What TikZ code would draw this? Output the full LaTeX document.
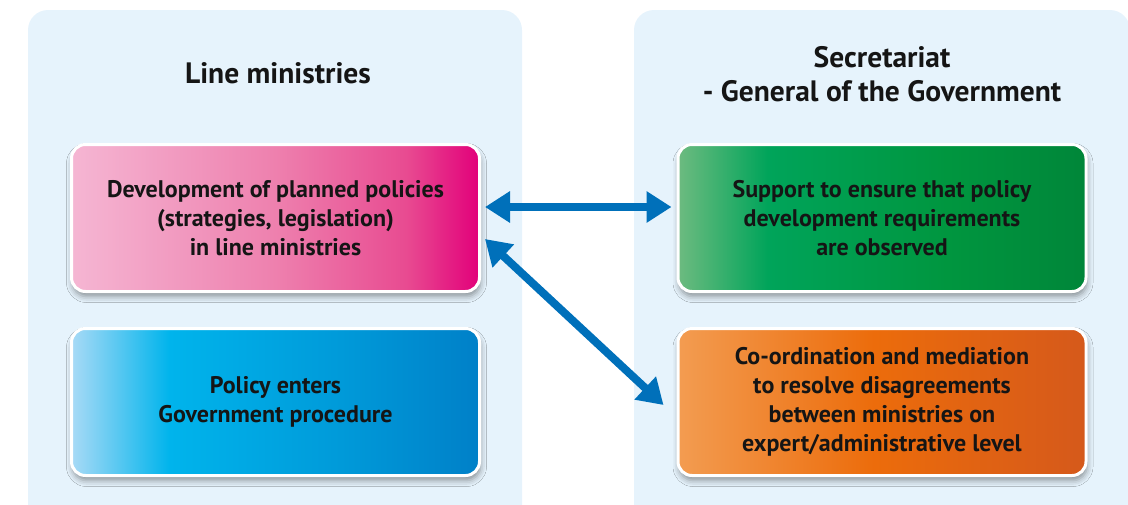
\documentclass[tikz,border=0pt]{standalone}
\usepackage{fontspec}
\setmainfont{PT Sans}
\usetikzlibrary{arrows.meta,shadows.blur}

\definecolor{panelfill}{HTML}{E6F3FC}
\definecolor{arrowblue}{HTML}{0070BA}
\definecolor{inktext}{HTML}{151515}

\definecolor{pink0}{HTML}{F5B6D3}
\definecolor{pink1}{HTML}{EE80AE}
\definecolor{pink2}{HTML}{E84B91}
\definecolor{pink3}{HTML}{E2007A}
\definecolor{blue0}{HTML}{A8DAF6}
\definecolor{blue1}{HTML}{00B4EC}
\definecolor{blue2}{HTML}{009AD9}
\definecolor{blue3}{HTML}{0080C8}
\definecolor{green0}{HTML}{6DBB80}
\definecolor{green1}{HTML}{00A45A}
\definecolor{green2}{HTML}{00963F}
\definecolor{green3}{HTML}{008639}
\definecolor{orange0}{HTML}{F39C51}
\definecolor{orange1}{HTML}{EC6C0B}
\definecolor{orange3}{HTML}{D5591B}

% horizontal colour ramps; the card spans 25bp..75bp of each ramp
\pgfdeclarehorizontalshading{pinkramp}{100bp}{%
  color(0bp)=(pink0); color(25bp)=(pink0); color(50bp)=(pink1);
  color(66bp)=(pink2); color(75bp)=(pink3); color(100bp)=(pink3)}
\pgfdeclarehorizontalshading{blueramp}{100bp}{%
  color(0bp)=(blue0); color(25bp)=(blue0); color(37bp)=(blue1);
  color(58bp)=(blue2); color(75bp)=(blue3); color(100bp)=(blue3)}
\pgfdeclarehorizontalshading{greenramp}{100bp}{%
  color(0bp)=(green0); color(25bp)=(green0); color(36bp)=(green1);
  color(58bp)=(green2); color(75bp)=(green3); color(100bp)=(green3)}
\pgfdeclarehorizontalshading{orangeramp}{100bp}{%
  color(0bp)=(orange0); color(25bp)=(orange0); color(49bp)=(orange1);
  color(75bp)=(orange3); color(100bp)=(orange3)}

\tikzset{
  panel/.style={fill=panelfill, rounded corners=20pt},
  paneltitle/.style={align=center, text=inktext,
    font=\fontsize{29.5}{34}\selectfont\bfseries},
  card/.style={rectangle, rounded corners=14pt, draw=white, line width=3pt,
    minimum width=408pt, minimum height=147pt, align=center, text=inktext,
    font=\fontsize{24}{29}\selectfont\bfseries,
    blur shadow={shadow xshift=1pt, shadow yshift=-5pt,
      shadow blur radius=6pt, shadow opacity=40}},
  biarrow/.style={draw=arrowblue, line width=8pt,
    {Triangle[length=25pt,width=30pt]}-{Triangle[length=25pt,width=30pt]}}
}

\begin{document}
\begin{tikzpicture}[x=1pt, y=-1pt]
\useasboundingbox (0,0) rectangle (1128,504);

% background panels
\fill[panel] (28,10) rectangle (522,530);
\fill[panel] (634,10) rectangle (1130,530);

% panel headings
\node[paneltitle] (lmtitle) at (278,73) {Line ministries};
\node[paneltitle] (sgtitle) at (882,74) {Secretariat\\- General of the Government};

% cards
\node[card, shade, shading=pinkramp] (dev) at (275.5,218)
  {Development of planned policies\\(strategies, legislation)\\in line ministries};
\node[card, shade, shading=blueramp] (proc) at (275.5,402)
  {Policy enters\\Government procedure};
\node[card, shade, shading=greenramp] (supp) at (882,218)
  {Support to ensure that policy\\development requirements\\are observed};
\node[card, shade, shading=orangeramp] (coord) at (882,402)
  {Co-ordination and mediation\\to resolve disagreements\\between ministries on\\expert/administrative level};

% connectors
\draw[biarrow] ([shift={(4,-11)}]dev.east) -- ([shift={(-5,-11)}]supp.west);
\draw[biarrow] ([shift={(4,21)}]dev.east) -- ([shift={(-13,3)}]coord.west);
\end{tikzpicture}
\end{document}
